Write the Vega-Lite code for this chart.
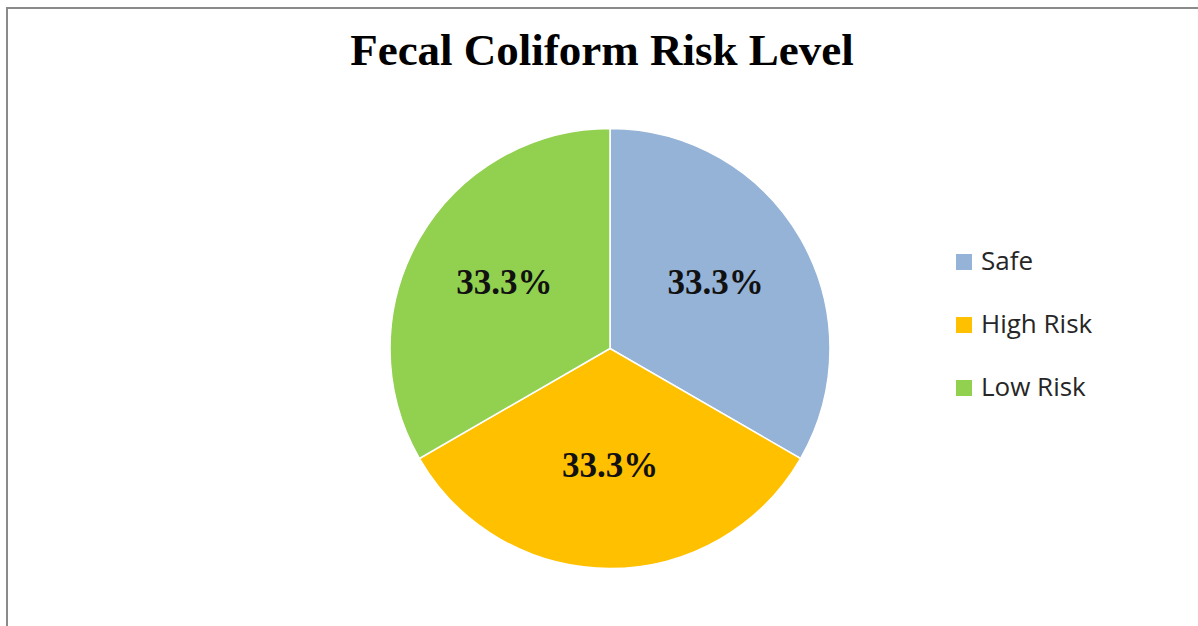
{
  "$schema": "https://vega.github.io/schema/vega-lite/v6.json",
  "autosize": "none",
  "padding": {"left": 7, "top": 8, "right": 0, "bottom": 0},
  "width": 1206,
  "height": 681,
  "background": "white",
  "view": {"stroke": "#8a8a8a", "strokeWidth": 2, "fill": "white"},
  "title": {
    "text": "Fecal Coliform Risk Level",
    "font": "Liberation Serif",
    "fontSize": 45,
    "fontWeight": "bold",
    "color": "#000000",
    "anchor": "middle",
    "frame": "group",
    "orient": "top",
    "offset": -59,
    "baseline": "alphabetic",
    "dx": -8,
    "dy": 43
  },
  "data": {
    "values": [
      {"category": "Safe", "value": 33.3, "rank": 1, "label": "33.3%"},
      {"category": "High Risk", "value": 33.3, "rank": 2, "label": "33.3%"},
      {"category": "Low Risk", "value": 33.3, "rank": 3, "label": "33.3%"}
    ]
  },
  "encoding": {
    "theta": {"field": "value", "type": "quantitative", "stack": true},
    "order": {"field": "rank", "type": "quantitative"}
  },
  "layer": [
    {
      "mark": {"type": "arc", "outerRadius": 220, "stroke": "white", "strokeWidth": 1.5},
      "encoding": {
        "color": {
          "field": "category",
          "type": "nominal",
          "scale": {"domain": ["Safe", "High Risk", "Low Risk"], "range": ["#95B3D7", "#FFC000", "#92D050"]},
          "legend": {
            "title": null,
            "orient": "none",
            "legendX": 944,
            "legendY": 241,
            "symbolType": "square",
            "symbolSize": 256,
            "symbolStrokeWidth": 0,
            "labelFont": "Open Sans",
            "labelFontSize": 26,
            "labelColor": "#262626",
            "labelOffset": 4,
            "rowPadding": 37,
            "padding": 0
          }
        }
      }
    },
    {
      "mark": {"type": "text", "radius": 122, "font": "Liberation Serif", "fontSize": 35, "fontWeight": "bold", "color": "#111111", "dy": -5},
      "encoding": {
        "text": {"field": "label", "type": "nominal"}
      }
    }
  ]
}
